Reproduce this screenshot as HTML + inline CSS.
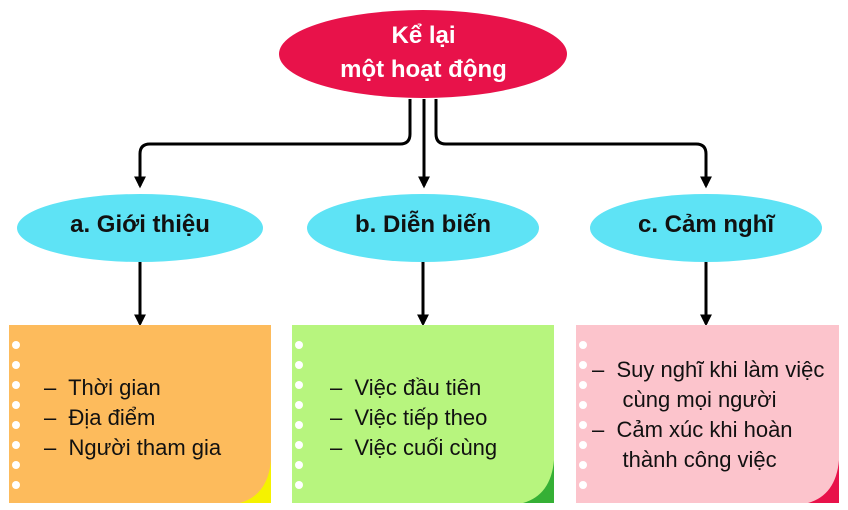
<!DOCTYPE html>
<html><head><meta charset="utf-8"><style>
body{margin:0;width:848px;height:510px;background:#fff;overflow:hidden;position:relative;font-family:"Liberation Sans",sans-serif}
.t{position:absolute;text-align:center;font-weight:bold}
.n{position:absolute;font-size:22px;color:#111;line-height:30px}
</style></head><body>
<svg width="848" height="510" style="position:absolute;left:0;top:0">
<defs><marker id="a" viewBox="0 0 10 10" refX="8" refY="5" markerWidth="4" markerHeight="4" orient="auto"><path d="M0,0 L10,5 L0,10 z" fill="#000"/></marker></defs>
<ellipse cx="423" cy="54" rx="144" ry="44" fill="#e8124a"/>
<g stroke="#000" stroke-width="3" fill="none">
<path d="M410,99 V134 Q410,144 400,144 H150 Q140,144 140,154 V186" marker-end="url(#a)"/>
<path d="M424,99 V186" marker-end="url(#a)"/>
<path d="M436,99 V134 Q436,144 446,144 H696 Q706,144 706,154 V186" marker-end="url(#a)"/>
<path d="M140,262 V324" marker-end="url(#a)"/>
<path d="M423,262 V324" marker-end="url(#a)"/>
<path d="M706,262 V324" marker-end="url(#a)"/>
</g>
<ellipse cx="140" cy="228" rx="123" ry="34" fill="#5ee3f5"/>
<ellipse cx="423" cy="228" rx="116" ry="34" fill="#5ee3f5"/>
<ellipse cx="706" cy="228" rx="116" ry="34" fill="#5ee3f5"/>
<rect x="9" y="325" width="262" height="178" fill="#fdbb5c"/>
<rect x="292" y="325" width="262" height="178" fill="#b7f57e"/>
<rect x="576" y="325" width="263" height="178" fill="#fcc4cc"/>
<path d="M271,460 Q268,495 240,503 H271z" fill="#f5f200"/>
<path d="M554,460 Q551,495 523,503 H554z" fill="#35b035"/>
<path d="M839,460 Q836,495 808,503 H839z" fill="#e8124a"/>
<g fill="#fff">
<circle cx="16" cy="345" r="4"/><circle cx="16" cy="365" r="4"/><circle cx="16" cy="385" r="4"/><circle cx="16" cy="405" r="4"/><circle cx="16" cy="425" r="4"/><circle cx="16" cy="445" r="4"/><circle cx="16" cy="465" r="4"/><circle cx="16" cy="485" r="4"/>
<circle cx="299" cy="345" r="4"/><circle cx="299" cy="365" r="4"/><circle cx="299" cy="385" r="4"/><circle cx="299" cy="405" r="4"/><circle cx="299" cy="425" r="4"/><circle cx="299" cy="445" r="4"/><circle cx="299" cy="465" r="4"/><circle cx="299" cy="485" r="4"/>
<circle cx="583" cy="345" r="4"/><circle cx="583" cy="365" r="4"/><circle cx="583" cy="385" r="4"/><circle cx="583" cy="405" r="4"/><circle cx="583" cy="425" r="4"/><circle cx="583" cy="445" r="4"/><circle cx="583" cy="465" r="4"/><circle cx="583" cy="485" r="4"/>
</g>
</svg>
<div class="t" style="left:280px;top:19px;width:287px;font-size:24px;line-height:34px;color:#fff">Kể lại<br>một hoạt động</div>
<div class="t" style="left:17px;top:211px;width:246px;font-size:24px;color:#111">a. Giới thiệu</div>
<div class="t" style="left:307px;top:211px;width:232px;font-size:24px;color:#111">b. Diễn biến</div>
<div class="t" style="left:590px;top:211px;width:232px;font-size:24px;color:#111">c. Cảm nghĩ</div>
<div class="n" style="left:44px;top:373px">–&nbsp; Thời gian<br>–&nbsp; Địa điểm<br>–&nbsp; Người tham gia</div>
<div class="n" style="left:330px;top:373px">–&nbsp; Việc đầu tiên<br>–&nbsp; Việc tiếp theo<br>–&nbsp; Việc cuối cùng</div>
<div class="n" style="left:592px;top:355px">–&nbsp; Suy nghĩ khi làm việc<br>&nbsp;&nbsp;&nbsp;&nbsp;&nbsp;cùng mọi người<br>–&nbsp; Cảm xúc khi hoàn<br>&nbsp;&nbsp;&nbsp;&nbsp;&nbsp;thành công việc</div>
</body></html>
